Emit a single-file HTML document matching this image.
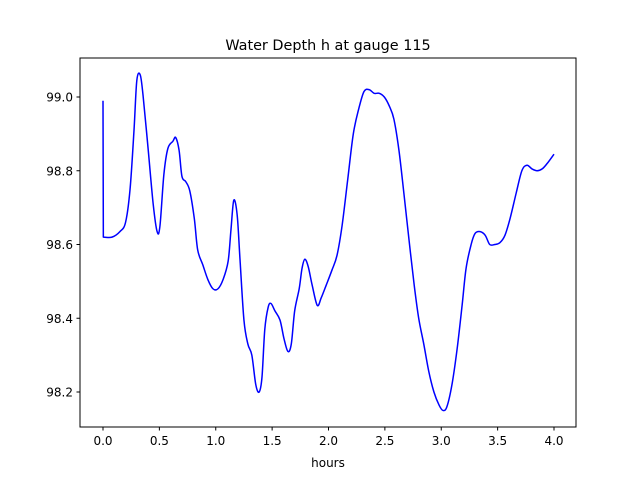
<!DOCTYPE html>
<html><head><meta charset="utf-8"><style>
body{margin:0;background:#fff;}
svg text{font-family:"DejaVu Sans","Liberation Sans",sans-serif;fill:#000;}
</style></head><body>
<svg id="chart" width="640" height="480">
<rect width="640" height="480" fill="#fff"/>
<text x="328" y="50" text-anchor="middle" font-size="14.4">Water Depth h at gauge 115</text>
<g id="plot"></g>
<rect x="80" y="58" width="496" height="369" fill="none" stroke="#000" stroke-width="1"/>
<text x="328" y="467" text-anchor="middle" font-size="12">hours</text>
</svg>
<script>
const hours=[0,0.003,0.08,0.15,0.2,0.24,0.275,0.3,0.33,0.355,0.4,0.445,0.48,0.505,0.54,0.575,0.62,0.645,0.675,0.7,0.735,0.77,0.81,0.84,0.885,0.93,0.975,1.02,1.065,1.11,1.135,1.16,1.19,1.215,1.25,1.285,1.32,1.355,1.385,1.41,1.435,1.465,1.49,1.525,1.57,1.605,1.64,1.67,1.7,1.74,1.765,1.79,1.82,1.855,1.9,1.935,1.98,2.03,2.075,2.12,2.17,2.22,2.27,2.315,2.36,2.405,2.45,2.495,2.54,2.58,2.625,2.67,2.715,2.76,2.8,2.845,2.89,2.935,2.98,3.015,3.05,3.095,3.14,3.185,3.22,3.265,3.3,3.345,3.39,3.43,3.475,3.52,3.565,3.61,3.665,3.715,3.76,3.805,3.85,3.895,3.94,4.0];
const depth=[98.99,98.62,98.62,98.635,98.66,98.75,98.91,99.045,99.06,99.005,98.86,98.71,98.635,98.65,98.79,98.86,98.88,98.89,98.855,98.785,98.77,98.745,98.67,98.585,98.545,98.505,98.48,98.48,98.505,98.555,98.64,98.72,98.68,98.56,98.395,98.33,98.3,98.22,98.2,98.24,98.37,98.43,98.44,98.42,98.395,98.345,98.31,98.33,98.42,98.48,98.535,98.56,98.54,98.49,98.435,98.455,98.49,98.53,98.57,98.65,98.775,98.9,98.97,99.015,99.02,99.01,99.01,99.0,98.975,98.94,98.855,98.735,98.61,98.49,98.4,98.33,98.255,98.2,98.165,98.15,98.16,98.22,98.315,98.435,98.535,98.6,98.63,98.635,98.625,98.6,98.6,98.605,98.625,98.67,98.74,98.8,98.815,98.805,98.8,98.805,98.82,98.845];
const xTicks=[0.0,0.5,1.0,1.5,2.0,2.5,3.0,3.5,4.0];
const yTicks=[98.2,98.4,98.6,98.8,99.0];
const xs=v=>103+(v-0)*112.75;
const ys=v=>97+(99-v)*368.75;
const NS="http://www.w3.org/2000/svg";
const g=document.getElementById('plot');
function mk(t,a){const e=document.createElementNS(NS,t);for(const k in a)e.setAttribute(k,a[k]);g.appendChild(e);return e;}
xTicks.forEach(v=>{
 const l=mk('line',{x1:xs(v),x2:xs(v),y1:427,y2:430.5,stroke:'#000'});
 
 
 const t=mk('text',{x:xs(v),y:445,'text-anchor':'middle','font-size':'12'});
 t.textContent=v.toFixed(1);
 
 
});
yTicks.forEach(v=>{
 const l=mk('line',{x1:76.5,x2:80,y1:ys(v),y2:ys(v),stroke:'#000'});
 
 
 const t=mk('text',{x:73,y:ys(v)+4.5,'text-anchor':'end','font-size':'12'});
 t.textContent=v.toFixed(1);
 
 
});
const P=hours.map((h,i)=>[xs(h),ys(depth[i])]);
let d='M'+P[0][0].toFixed(2)+' '+P[0][1].toFixed(2);
for(let i=0;i<P.length-1;i++){
 const p0=P[Math.max(0,i-1)],p1=P[i],p2=P[i+1],p3=P[Math.min(P.length-1,i+2)];
 let c1=[p1[0]+(p2[0]-p0[0])/6,p1[1]+(p2[1]-p0[1])/6];
 let c2=[p2[0]-(p3[0]-p1[0])/6,p2[1]-(p3[1]-p1[1])/6];
 if(i===0){c1=[p1[0],p1[1]];c2=[p2[0],p2[1]];}
 if(i===1){c1=[p1[0]+(p2[0]-p1[0])/3,p1[1]+(p2[1]-p1[1])/3];}
 d+='C'+c1[0].toFixed(2)+' '+c1[1].toFixed(2)+' '+c2[0].toFixed(2)+' '+c2[1].toFixed(2)+' '+p2[0].toFixed(2)+' '+p2[1].toFixed(2);
}
const p=mk('path',{d:d,fill:'none',stroke:'#0000ff','stroke-width':'1.5','stroke-linejoin':'round'});


</script>
</body></html>
